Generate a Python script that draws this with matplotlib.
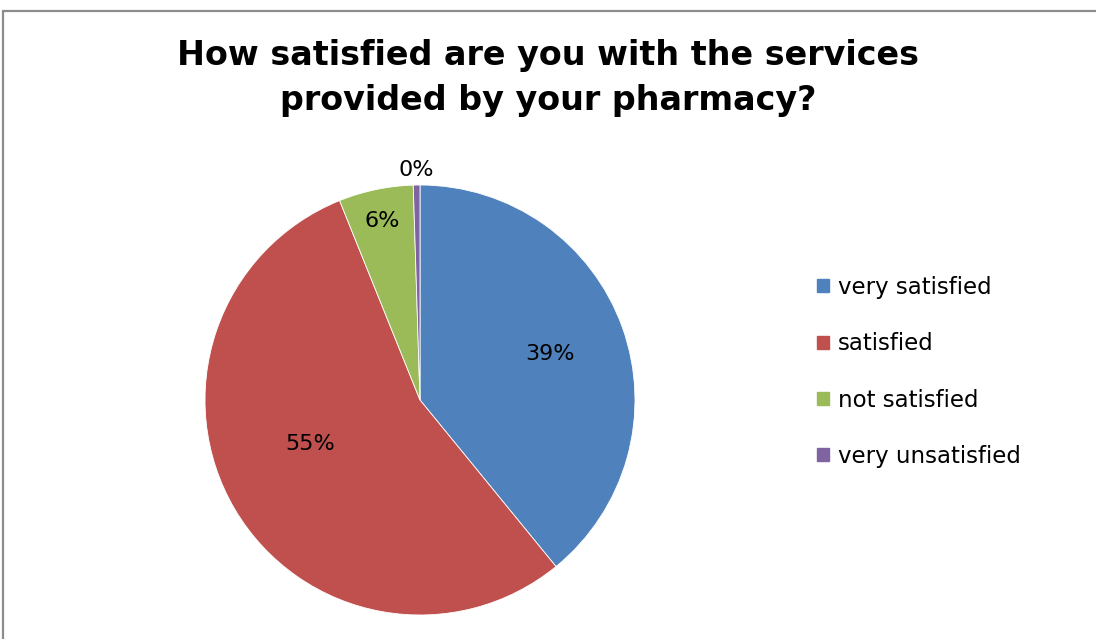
import numpy as np
import matplotlib.pyplot as plt
from matplotlib.patches import Rectangle

categories = ['very satisfied', 'satisfied', 'not satisfied', 'very unsatisfied']
shares = [39.1, 54.8, 5.6, 0.5]
pct_labels = ['39%', '55%', '6%', '0%']
colors = ['#4f81bd', '#c0504d', '#9bbb59', '#8064a2']

fig = plt.figure(figsize=(10.96, 6.39), dpi=100)

# gray chart frame (right and bottom edges are cut off in the original)
fig.patches.append(Rectangle((0.003, -0.2), 1.2, 0.2 + 628 / 639, transform=fig.transFigure,
                             fill=False, edgecolor='#8c8c8c', linewidth=1.6, clip_on=False))

fig.text(0.5, 0.878, 'How satisfied are you with the services\nprovided by your pharmacy?',
         ha='center', va='center', fontsize=24, fontweight='bold', linespacing=1.45)

ax = fig.add_axes([203 / 1096, 24 / 639, 434 / 1096, 430 / 639])
wedges, _ = ax.pie(shares, colors=colors, startangle=90, counterclock=False, radius=1,
                   wedgeprops=dict(edgecolor='white', linewidth=0.6))
ax.set_xlim(-1, 1)
ax.set_ylim(-1, 1)

# label placement per slice: distance from centre, angle nudge (deg)
dists = [0.64, 0.55, 0.85, 1.07]
nudges = [0, -9, 0, 0]
for w, lab, d, n in zip(wedges, pct_labels, dists, nudges):
    mid = np.deg2rad((w.theta1 + w.theta2) / 2 + n)
    ax.text(d * np.cos(mid), d * np.sin(mid), lab, ha='center', va='center', fontsize=16)

handles = [Rectangle((0, 0), 1, 1, color=c) for c in colors]
fig.legend(handles, categories, loc='center left', bbox_to_anchor=(0.727, 0.418),
           frameon=False, fontsize=16.5, handlelength=0.5, handleheight=0.5,
           handletextpad=0.4, labelspacing=1.45)

fig.savefig('out.png', dpi=100)
